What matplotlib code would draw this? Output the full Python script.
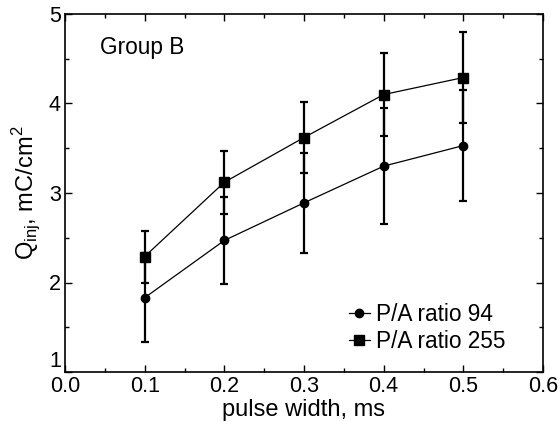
import matplotlib
matplotlib.use("AGG")
import matplotlib.pyplot as plt
from matplotlib.ticker import MultipleLocator

plt.rcParams['font.family'] = ['Liberation Sans', 'DejaVu Sans']

width = [0.1, 0.2, 0.3, 0.4, 0.5]
q94 = [1.83, 2.47, 2.89, 3.30, 3.53]
err94 = [0.50, 0.49, 0.56, 0.65, 0.62]
q255 = [2.29, 3.12, 3.62, 4.10, 4.29]
err255 = [0.29, 0.35, 0.40, 0.46, 0.51]

fig = plt.figure(figsize=(5.6, 4.25), dpi=100)
ax = fig.add_axes([65/560, 53/425, 478/560, 358/425])

h1 = ax.errorbar(width, q94, yerr=err94, fmt='-o', color='k', ms=6, lw=0.9,
                 elinewidth=1.6, capsize=2.8, capthick=1.6)
h2 = ax.errorbar(width, q255, yerr=err255, fmt='-s', color='k', ms=6.5, lw=0.9,
                 elinewidth=1.6, capsize=2.8, capthick=1.6)

ax.set_xlim(0, 0.6)
ax.set_ylim(1, 5)
ax.xaxis.set_major_locator(MultipleLocator(0.1))
ax.xaxis.set_minor_locator(MultipleLocator(0.05))
ax.yaxis.set_major_locator(MultipleLocator(1))
ax.yaxis.set_minor_locator(MultipleLocator(0.5))
ax.xaxis.set_major_formatter(plt.FormatStrFormatter('%.1f'))
ax.tick_params(which='both', direction='in', top=True, right=True, labelsize=15.5)
ax.tick_params(which='major', length=5, width=1, pad=3)
ax.tick_params(which='minor', length=3, width=1)
for s in ax.spines.values():
    s.set_linewidth(1.2)

ax.set_xlabel('pulse width, ms', fontsize=17, labelpad=1)
ax.set_ylabel('Q$_{\\mathregular{inj}}$, mC/cm$^{\\mathregular{2}}$', fontsize=17, labelpad=4)
ax.text(0.044, 4.63, 'Group B', fontsize=16.3, va='center')

ax.legend([h1[0], h2[0]], ['P/A ratio 94', 'P/A ratio 255'],
          loc='lower left', bbox_to_anchor=(0.585, 0.04), frameon=False,
          fontsize=16.3, handlelength=0.9, handletextpad=0.3,
          labelspacing=0.2, borderpad=0.2, borderaxespad=0)

# lift the bottom "1" so it sits above the x tick label "0.0"
fig.canvas.draw()
for t in ax.yaxis.get_major_ticks():
    if abs(t.get_loc() - 1) < 1e-9:
        t.label1.set_verticalalignment('bottom')

fig.savefig('out.png', dpi=100)
